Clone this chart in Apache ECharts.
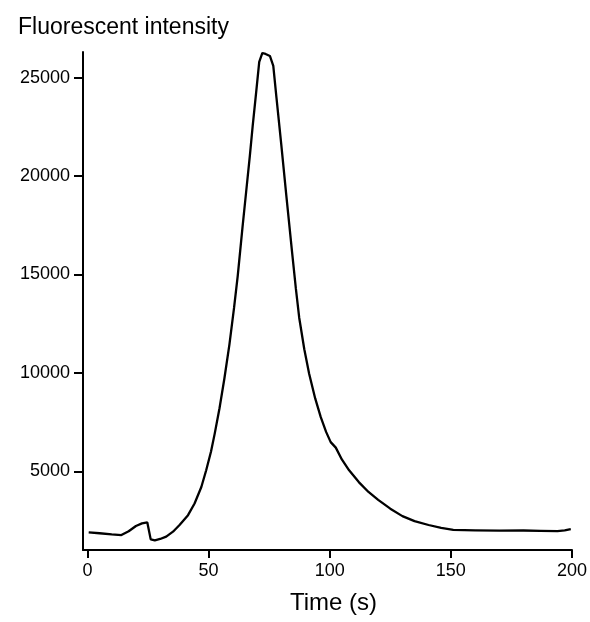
<!DOCTYPE html>
<html>
<head>
<meta charset="utf-8">
<script src="https://cdn.jsdelivr.net/npm/echarts@6/dist/echarts.min.js"></script>
<style>
  html, body { margin: 0; padding: 0; background: #fff; }
  #box { width: 590px; height: 622px; }
</style>
</head>
<body>
<div id="box"></div>
<script>
// time in seconds
var time = [0.5, 5, 10, 14, 17, 20, 22.5, 24.7, 26.1, 27.8, 30, 32.5, 35.3, 38, 41.5, 44.2, 47, 49, 51, 52.5,
    54.5, 56.5, 58.6, 60.5, 62, 64, 65.5, 67, 68.2, 69.5, 70.9, 72.2, 73.5, 75.3, 76.7, 78, 80, 82,
    84.4, 86, 87.4, 89.5, 91.5, 94, 96.3, 98.5, 100.4, 102.5, 105, 108, 112, 116, 120, 125, 130,
    135, 140.8, 146, 151, 160, 170, 180, 187, 194, 197, 199.5];
var intensity = [1900, 1850, 1790, 1760, 1950, 2220, 2350, 2400, 1540, 1490, 1560, 1680, 1930, 2270, 2770, 3360, 4200, 5050, 6000, 6900,
    8200, 9700, 11450, 13300, 14900, 17400, 19200, 21000, 22550, 24100, 25800, 26250, 26200, 26100, 25600, 24000, 21600, 19100,
    16200, 14300, 12800, 11200, 9950, 8700, 7750, 7000, 6480, 6200, 5600, 5050, 4450, 3950, 3550, 3100, 2720,
    2470, 2270, 2120, 2020, 2000, 1980, 1990, 1975, 1960, 2000, 2060];
var xTicks = [0, 50, 100, 150, 200];
var yTicks = [5000, 10000, 15000, 20000, 25000];

var points = [];
for (var i = 0; i < time.length; i++) {
    points.push([time[i], intensity[i]]);
}

var myChart = echarts.init(document.getElementById('box'));
var option = {
    backgroundColor: '#fff',
    animation: false,
    textStyle: { fontFamily: 'Liberation Sans, Arial, sans-serif' },
    title: {
        text: 'Fluorescent intensity',
        left: 13,
        top: 11,
        textStyle: { color: '#000', fontSize: 23, fontWeight: 'normal', fontFamily: 'Liberation Sans' }
    },
    grid: { left: 83, right: 16, top: 52, bottom: 72 },
    xAxis: {
        type: 'value',
        min: -1.85,
        max: 200,
        name: 'Time (s)',
        nameLocation: 'middle',
        nameGap: 41,
        nameTextStyle: { color: '#000', fontSize: 24, fontFamily: 'Liberation Sans', padding: [0, 0, 0, 12] },
        axisLine: { onZero: false, lineStyle: { color: '#000', width: 2 } },
        axisTick: { show: true, length: 8, lineStyle: { color: '#000', width: 2 }, customValues: xTicks },
        axisLabel: { color: '#000', fontSize: 18, margin: 12, customValues: xTicks },
        splitLine: { show: false }
    },
    yAxis: {
        type: 'value',
        min: 1000,
        max: 26300,
        axisLine: { show: true, onZero: false, lineStyle: { color: '#000', width: 2 } },
        axisTick: { show: true, length: 9, lineStyle: { color: '#000', width: 2 }, customValues: yTicks },
        axisLabel: {
            color: '#000', fontSize: 18, margin: 13, customValues: yTicks,
            formatter: function (v) { return String(v); }
        },
        splitLine: { show: false }
    },
    series: [{
        type: 'line',
        data: points,
        showSymbol: false,
        smooth: false,
        lineStyle: { color: '#000', width: 2.3 }
    }]
};
myChart.setOption(option);
</script>
</body>
</html>
